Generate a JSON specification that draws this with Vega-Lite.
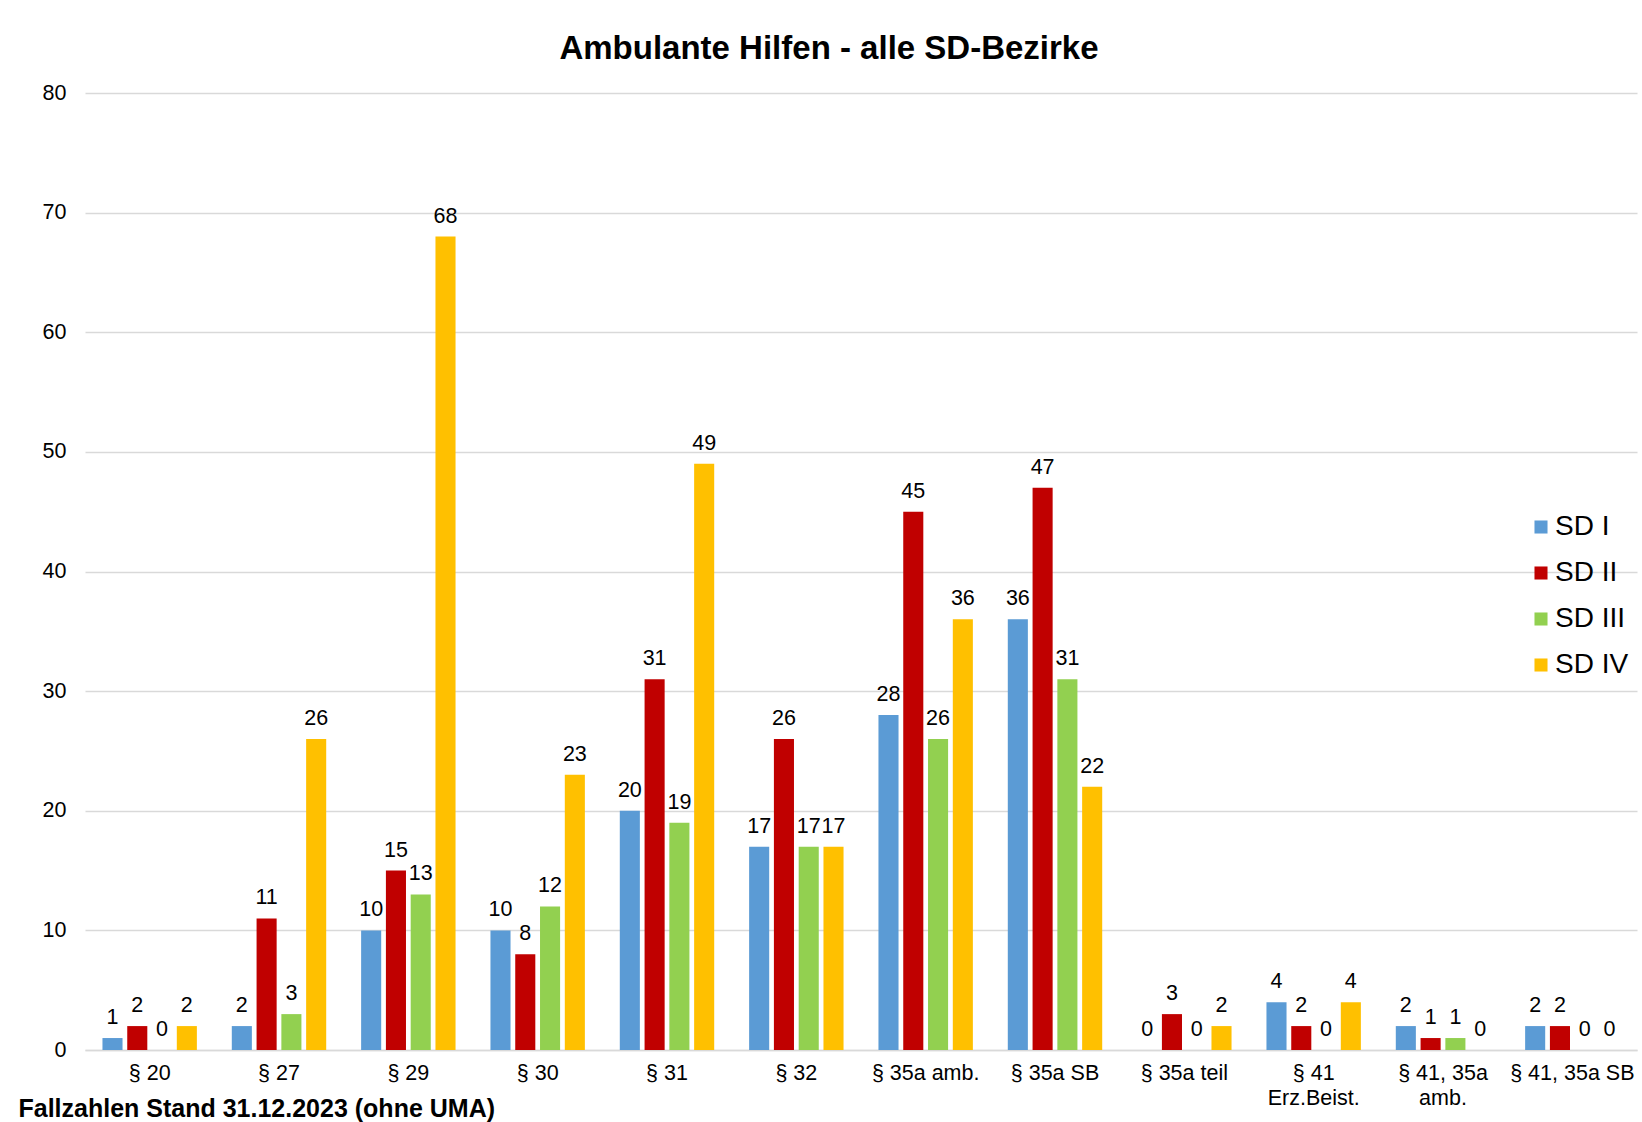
{
  "$schema": "https://vega.github.io/schema/vega-lite/v6.json",
  "width": 1552,
  "height": 957,
  "autosize": {"type": "none"},
  "padding": {"left": 85, "top": 93, "right": 5, "bottom": 72},
  "background": "white",
  "config": {
    "font": "Liberation Sans",
    "view": {"stroke": null}
  },
  "title": {
    "text": "Ambulante Hilfen - alle SD-Bezirke",
    "fontSize": 33,
    "fontWeight": "bold",
    "color": "#000000",
    "anchor": "middle",
    "dx": -32,
    "offset": 16
  },
  "data": {
    "values": [
      {"kat": "§ 20", "sd": "SD I", "n": 1},
      {"kat": "§ 20", "sd": "SD II", "n": 2},
      {"kat": "§ 20", "sd": "SD III", "n": 0},
      {"kat": "§ 20", "sd": "SD IV", "n": 2},
      {"kat": "§ 27", "sd": "SD I", "n": 2},
      {"kat": "§ 27", "sd": "SD II", "n": 11},
      {"kat": "§ 27", "sd": "SD III", "n": 3},
      {"kat": "§ 27", "sd": "SD IV", "n": 26},
      {"kat": "§ 29", "sd": "SD I", "n": 10},
      {"kat": "§ 29", "sd": "SD II", "n": 15},
      {"kat": "§ 29", "sd": "SD III", "n": 13},
      {"kat": "§ 29", "sd": "SD IV", "n": 68},
      {"kat": "§ 30", "sd": "SD I", "n": 10},
      {"kat": "§ 30", "sd": "SD II", "n": 8},
      {"kat": "§ 30", "sd": "SD III", "n": 12},
      {"kat": "§ 30", "sd": "SD IV", "n": 23},
      {"kat": "§ 31", "sd": "SD I", "n": 20},
      {"kat": "§ 31", "sd": "SD II", "n": 31},
      {"kat": "§ 31", "sd": "SD III", "n": 19},
      {"kat": "§ 31", "sd": "SD IV", "n": 49},
      {"kat": "§ 32", "sd": "SD I", "n": 17},
      {"kat": "§ 32", "sd": "SD II", "n": 26},
      {"kat": "§ 32", "sd": "SD III", "n": 17},
      {"kat": "§ 32", "sd": "SD IV", "n": 17},
      {"kat": "§ 35a amb.", "sd": "SD I", "n": 28},
      {"kat": "§ 35a amb.", "sd": "SD II", "n": 45},
      {"kat": "§ 35a amb.", "sd": "SD III", "n": 26},
      {"kat": "§ 35a amb.", "sd": "SD IV", "n": 36},
      {"kat": "§ 35a SB", "sd": "SD I", "n": 36},
      {"kat": "§ 35a SB", "sd": "SD II", "n": 47},
      {"kat": "§ 35a SB", "sd": "SD III", "n": 31},
      {"kat": "§ 35a SB", "sd": "SD IV", "n": 22},
      {"kat": "§ 35a teil", "sd": "SD I", "n": 0},
      {"kat": "§ 35a teil", "sd": "SD II", "n": 3},
      {"kat": "§ 35a teil", "sd": "SD III", "n": 0},
      {"kat": "§ 35a teil", "sd": "SD IV", "n": 2},
      {"kat": "§ 41|Erz.Beist.", "sd": "SD I", "n": 4},
      {"kat": "§ 41|Erz.Beist.", "sd": "SD II", "n": 2},
      {"kat": "§ 41|Erz.Beist.", "sd": "SD III", "n": 0},
      {"kat": "§ 41|Erz.Beist.", "sd": "SD IV", "n": 4},
      {"kat": "§ 41, 35a|amb.", "sd": "SD I", "n": 2},
      {"kat": "§ 41, 35a|amb.", "sd": "SD II", "n": 1},
      {"kat": "§ 41, 35a|amb.", "sd": "SD III", "n": 1},
      {"kat": "§ 41, 35a|amb.", "sd": "SD IV", "n": 0},
      {"kat": "§ 41, 35a SB", "sd": "SD I", "n": 2},
      {"kat": "§ 41, 35a SB", "sd": "SD II", "n": 2},
      {"kat": "§ 41, 35a SB", "sd": "SD III", "n": 0},
      {"kat": "§ 41, 35a SB", "sd": "SD IV", "n": 0}
    ]
  },
  "encoding": {
    "x": {
      "field": "kat",
      "type": "nominal",
      "sort": null,
      "scale": {"paddingInner": 0.27, "paddingOuter": 0.135},
      "axis": {
        "title": "Fallzahlen Stand 31.12.2023 (ohne UMA)",
        "titleFontSize": 25,
        "titleFontWeight": "bold",
        "titleColor": "#000000",
        "titleAnchor": "start",
        "titleAlign": "left",
        "titleX": -67,
        "titleY": 58,
        "titleBaseline": "middle",
        "labelExpr": "split(datum.label, '|')",
        "labelAngle": 0,
        "labelFontSize": 21.5,
        "labelColor": "#000000",
        "labelPadding": 12,
        "labelLineHeight": 25,
        "ticks": false,
        "domainColor": "#d9d9d9",
        "domainWidth": 1.5
      }
    },
    "xOffset": {
      "field": "sd",
      "type": "nominal",
      "scale": {"paddingInner": 0.19}
    },
    "y": {
      "field": "n",
      "type": "quantitative",
      "scale": {"domain": [0, 80]},
      "axis": {
        "title": null,
        "values": [0, 10, 20, 30, 40, 50, 60, 70, 80],
        "labelFontSize": 21.5,
        "labelColor": "#000000",
        "labelPadding": 19,
        "ticks": false,
        "domain": false,
        "gridColor": "#d9d9d9",
        "gridWidth": 1.5
      }
    }
  },
  "layer": [
    {
      "mark": {"type": "bar"},
      "encoding": {
        "color": {
          "field": "sd",
          "type": "nominal",
          "scale": {
            "domain": ["SD I", "SD II", "SD III", "SD IV"],
            "range": ["#5B9BD5", "#C00000", "#92D050", "#FFC000"]
          },
          "legend": {
            "title": null,
            "orient": "none",
            "legendX": 1442,
            "legendY": 420,
            "symbolType": "square",
            "symbolSize": 170,
            "symbolStrokeWidth": 0,
            "labelFontSize": 28,
            "labelColor": "#000000",
            "labelOffset": 0,
            "rowPadding": 18
          }
        }
      }
    },
    {
      "mark": {"type": "text", "baseline": "bottom", "dy": -9, "fontSize": 21.5, "color": "#000000"},
      "encoding": {
        "text": {"field": "n", "type": "quantitative"}
      }
    }
  ]
}
